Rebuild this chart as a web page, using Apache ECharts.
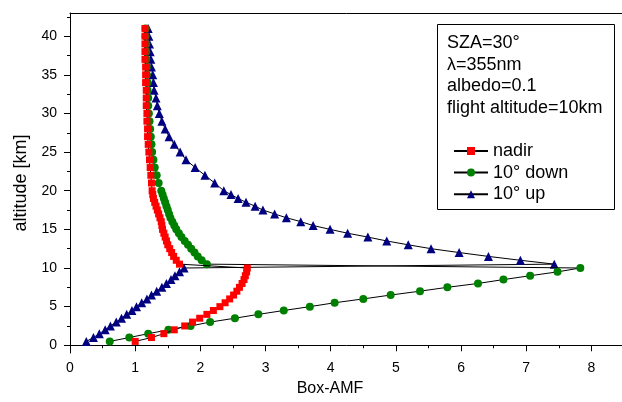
<!DOCTYPE html>
<html>
<head>
<meta charset="utf-8">
<script src="https://cdn.jsdelivr.net/npm/echarts@6.0.0/dist/echarts.min.js"></script>
<style>
  html, body { margin: 0; padding: 0; background: #fff; }
  #main { width: 622px; height: 402px; }
</style>
</head>
<body>
<div id="main"></div>
<script>
// altitude grid of the model [km]
const altitude = [0.5, 1, 1.5, 2, 2.5, 3, 3.5, 4, 4.5, 5, 5.5, 6, 6.5, 7, 7.5, 8, 8.5, 9, 9.5, 10,
  10.5, 11, 11.5, 12, 12.5, 13, 13.5, 14, 14.5, 15, 15.5, 16, 16.5, 17, 17.5, 18, 18.5, 19, 19.5, 20,
  21, 22, 23, 24, 25, 26, 27, 28, 29, 30, 31, 32, 33, 34, 35, 36, 37, 38, 39, 40, 41];

// Box-AMF per viewing direction
const nadirAmf = [1.00, 1.25, 1.44, 1.60, 1.76, 1.88, 1.99, 2.10, 2.20, 2.30, 2.38, 2.45, 2.51, 2.56, 2.60, 2.64, 2.67, 2.69, 2.71, 2.72,
  1.68, 1.63, 1.59, 1.56, 1.53, 1.50, 1.48, 1.46, 1.44, 1.42, 1.41, 1.40, 1.38, 1.36, 1.34, 1.32, 1.30, 1.28, 1.27, 1.26,
  1.25, 1.24, 1.23, 1.22, 1.21, 1.20, 1.19, 1.19, 1.18, 1.18, 1.17, 1.17, 1.17, 1.16, 1.16, 1.16, 1.15, 1.15, 1.15, 1.15, 1.15];
const downAmf = [0.61, 0.91, 1.20, 1.51, 1.85, 2.15, 2.53, 2.89, 3.28, 3.68, 4.06, 4.50, 4.92, 5.37, 5.79, 6.26, 6.65, 7.06, 7.48, 7.83,
  2.10, 2.02, 1.96, 1.91, 1.86, 1.81, 1.76, 1.71, 1.67, 1.63, 1.60, 1.57, 1.54, 1.52, 1.50, 1.48, 1.46, 1.44, 1.42, 1.40,
  1.36, 1.33, 1.30, 1.28, 1.26, 1.25, 1.24, 1.23, 1.22, 1.21, 1.20, 1.20, 1.19, 1.19, 1.18, 1.18, 1.17, 1.17, 1.17, 1.16, 1.16];
const upAmf = [0.25, 0.36, 0.45, 0.54, 0.62, 0.71, 0.79, 0.87, 0.95, 1.02, 1.10, 1.18, 1.25, 1.33, 1.41, 1.48, 1.55, 1.61, 1.68, 1.75,
  7.43, 6.91, 6.42, 5.97, 5.54, 5.19, 4.86, 4.57, 4.26, 3.99, 3.73, 3.54, 3.32, 3.14, 2.96, 2.84, 2.70, 2.58, 2.47, 2.36,
  2.22, 2.07, 1.92, 1.78, 1.69, 1.60, 1.52, 1.46, 1.41, 1.37, 1.34, 1.32, 1.29, 1.28, 1.27, 1.25, 1.24, 1.23, 1.22, 1.21, 1.20];

// tick labels
const xMajorTicks = [0, 1, 2, 3, 4, 5, 6, 7, 8];
const xMinorTicks = [0.5, 1.5, 2.5, 3.5, 4.5, 5.5, 6.5, 7.5];
const yMajorTicks = [0, 5, 10, 15, 20, 25, 30, 35, 40];
const yMinorTicks = [2.5, 7.5, 12.5, 17.5, 22.5, 27.5, 32.5, 37.5, 42.5];
const infoLines = ["SZA=30°", "λ=355nm", "albedo=0.1", "flight altitude=10km"];

const FONT = "Liberation Sans, Arial, sans-serif";

function pairs(xs) {
  return xs.map((x, i) => [x, altitude[i]]);
}

var myChart = echarts.init(document.getElementById("main"));

var lineSeries = function (name, values, symbol, size, color, z) {
  return {
    name: name,
    type: "line",
    data: pairs(values),
    symbol: symbol,
    symbolSize: size,
    showSymbol: true,
    showAllSymbol: true,
    itemStyle: { color: color },
    lineStyle: { color: "#000", width: 1 },
    emphasis: { disabled: true },
    z: z,
  };
};

var texts = infoLines.map((t, i) => ({
  type: "text",
  x: 447,
  y: 43 + i * 21.6,
  style: { text: t, font: "18px " + FONT, fill: "#000", verticalAlign: "middle" },
  z: 5,
}));

// helper: an axis that only draws ticks (and/or its line)
var plainAxis = function (extra) {
  return Object.assign({
    type: "value",
    axisLine: { show: false },
    axisTick: { show: false },
    axisLabel: { show: false },
    splitLine: { show: false },
  }, extra);
};

myChart.setOption({
  animation: false,
  grid: { left: 70, top: 13, right: -2, bottom: 49, containLabel: false, outerBoundsMode: "none" },
  xAxis: [
    {
      type: "value",
      min: 0,
      max: 8.5,
      name: "Box-AMF",
      nameLocation: "middle",
      nameGap: 28,
      nameTextStyle: { fontSize: 16, fontFamily: FONT, color: "#000", padding: [0, 34, 0, 0] },
      axisLine: { lineStyle: { color: "#000", width: 1 } },
      axisTick: { length: 6, customValues: xMajorTicks, lineStyle: { color: "#000" } },
      axisLabel: { fontSize: 14, fontFamily: FONT, color: "#000", margin: 8, customValues: xMajorTicks },
      splitLine: { show: false },
    },
    plainAxis({
      position: "bottom",
      min: 0,
      max: 8.5,
      axisTick: { show: true, length: 3, customValues: xMinorTicks, lineStyle: { color: "#000" } },
    }),
    plainAxis({
      position: "top",
      min: 0,
      max: 8.5,
      axisLine: { show: true, lineStyle: { color: "#000", width: 1 } },
    }),
  ],
  yAxis: [
    {
      type: "value",
      min: -1,
      max: 43,
      name: "altitude [km]",
      nameLocation: "middle",
      nameGap: 40,
      nameTextStyle: { fontSize: 18, fontFamily: FONT, color: "#000" },
      axisLine: { show: true, lineStyle: { color: "#000", width: 1 } },
      axisTick: { show: true, length: 6, customValues: yMajorTicks, lineStyle: { color: "#000" } },
      axisLabel: { fontSize: 14, fontFamily: FONT, color: "#000", margin: 13, customValues: yMajorTicks },
      splitLine: { show: false },
    },
    plainAxis({
      position: "left",
      min: -1,
      max: 43,
      axisTick: { show: true, length: 3, customValues: yMinorTicks, lineStyle: { color: "#000" } },
    }),
  ],
  legend: {
    orient: "vertical",
    left: 453,
    top: 142,
    padding: 0,
    itemWidth: 34,
    itemHeight: 10,
    itemGap: 3.6,
    selectedMode: false,
    textStyle: { fontSize: 18, fontFamily: FONT, color: "#000", lineHeight: 18 },
    data: ["nadir", "10° down", "10° up"],
  },
  graphic: [
    {
      type: "rect",
      shape: { x: 437.5, y: 24.5, width: 177, height: 185 },
      style: { fill: "#fff", stroke: "#000", lineWidth: 1 },
      z: 1,
    },
  ].concat(texts),
  series: [
    lineSeries("10° up", upAmf, "triangle", 9, "#000080", 2),
    lineSeries("10° down", downAmf, "circle", 8, "#008000", 3),
    lineSeries("nadir", nadirAmf, "rect", 7, "#ff0000", 4),
  ],
});
</script>
</body>
</html>
